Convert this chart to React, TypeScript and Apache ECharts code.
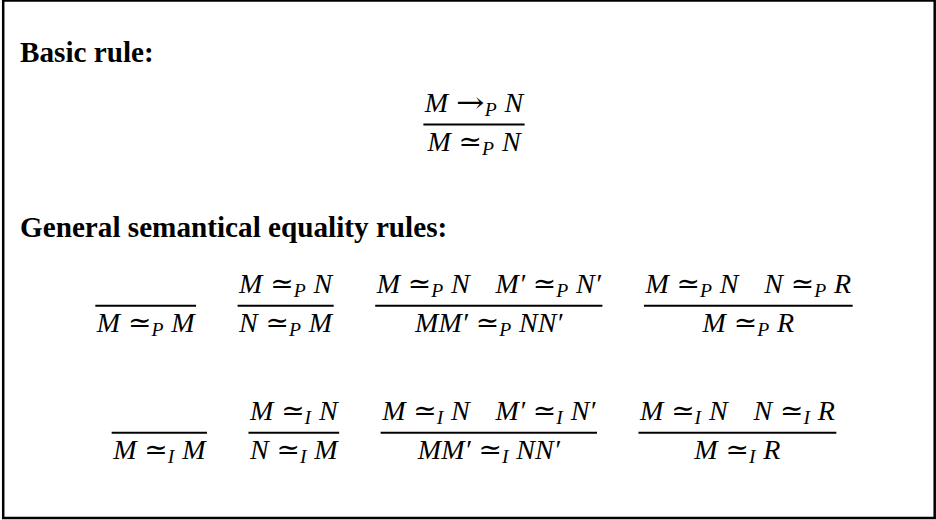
import React, { useEffect, useRef } from "react";
import * as echarts from "echarts";

// ---------- content ----------
const headings = ["Basic rule:", "General semantical equality rules:"];
const basicPremises = ["M →_P N"];
const basicConclusion = "M ≃_P N";
const premisesP = [[], ["M ≃_P N"], ["M ≃_P N", "M′ ≃_P N′"], ["M ≃_P N", "N ≃_P R"]];
const conclusionsP = ["M ≃_P M", "N ≃_P M", "MM′ ≃_P NN′", "M ≃_P R"];
const premisesI = [[], ["M ≃_I N"], ["M ≃_I N", "M′ ≃_I N′"], ["M ≃_I N", "N ≃_I R"]];
const conclusionsI = ["M ≃_I M", "N ≃_I M", "MM′ ≃_I NN′", "M ≃_I R"];

// ---------- layout / style ----------
const W = 936;
const H = 520;
const TEXT_FAMILY = '"Liberation Serif", "Times New Roman", Times, serif';
const SYM_FAMILY = '"DejaVu Sans ExtraLight", "DejaVu Serif", "Liberation Serif", serif';
const HEAD_SIZE = 29.2;
const HEAD_X = 20;
const HEAD_BASELINES = [62, 237];
const MATH = 28;
const SUB_RATIO = 0.7;
const SUB_DROP = 0.15;
const THICK = 0.28;
const PREMISE_GAP = 0.92;
const RULE_GAP = 41.5;
const CENTER_X = 474;
const LINE_PAD = 1.5;
const NUM_ABOVE = 12.6;
const DEN_BELOW = 26.5;
const BASIC_LINE_Y = 124.5;
const ROW_LINE_Y = [305.7, 432.7];
const ARROW_STRETCH = 1.22;

let mctx: CanvasRenderingContext2D | null = null;
function ctx2d() {
  if (!mctx) mctx = document.createElement("canvas").getContext("2d");
  return mctx!;
}
function fontStr(style: string, weight: string, size: number, family: string) {
  return `${style} ${weight} ${size}px ${family}`;
}
function measure(text: string, font: string) {
  const c = ctx2d();
  c.font = font;
  return c.measureText(text).width;
}
// distance from the alphabetic baseline up to the "central" baseline used by SVG text
function centralOffset(font: string, size: number) {
  const c = ctx2d();
  c.font = font;
  const m: any = c.measureText("M");
  const a = m.fontBoundingBoxAscent ?? 0.891 * size;
  const d = m.fontBoundingBoxDescent ?? 0.216 * size;
  return (a - d) / 2;
}

type Piece = {
  text: string;
  dx: number;
  dy: number;
  size: number;
  family: string;
  style: string;
  weight: string;
  sx?: number;
};

function layoutFormula(src: string, f: number) {
  const pieces: Piece[] = [];
  let x = 0;
  for (const atom of src.split(" ")) {
    if (atom[0] === "≃" || atom[0] === "→") {
      x += THICK * f;
      const sym = atom[0];
      const sub = atom.slice(2);
      const sx = sym === "→" ? ARROW_STRETCH : 1;
      pieces.push({ text: sym, dx: x, dy: 0, size: f, family: SYM_FAMILY, style: "normal", weight: "normal", sx });
      x += measure(sym, fontStr("normal", "normal", f, SYM_FAMILY)) * sx;
      const sf = f * SUB_RATIO;
      pieces.push({ text: sub, dx: x, dy: SUB_DROP * f, size: sf, family: TEXT_FAMILY, style: "italic", weight: "normal" });
      x += measure(sub, fontStr("italic", "normal", sf, TEXT_FAMILY));
      x += THICK * f;
    } else {
      pieces.push({ text: atom, dx: x, dy: 0, size: f, family: TEXT_FAMILY, style: "italic", weight: "normal" });
      x += measure(atom, fontStr("italic", "normal", f, TEXT_FAMILY));
    }
  }
  return { pieces, width: x };
}

function layoutLine(formulas: string[], f: number) {
  const pieces: Piece[] = [];
  let x = 0;
  formulas.forEach((s, i) => {
    if (i > 0) x += PREMISE_GAP * f;
    const l = layoutFormula(s, f);
    l.pieces.forEach((p) => pieces.push({ ...p, dx: p.dx + x }));
    x += l.width;
  });
  return { pieces, width: x };
}

function textEl(p: Piece, x: number, baseline: number) {
  const font = fontStr(p.style, p.weight, p.size, p.family);
  return {
    type: "text",
    x,
    y: baseline + p.dy - centralOffset(font, p.size),
    scaleX: p.sx ?? 1,
    silent: true,
    style: {
      text: p.text,
      fill: "#000",
      fontSize: p.size,
      fontFamily: p.family,
      fontStyle: p.style,
      fontWeight: p.weight,
      align: "left",
      verticalAlign: "middle",
    },
  };
}

function ruleWidth(premises: string[], conclusion: string) {
  return Math.max(layoutLine(premises, MATH).width, layoutLine([conclusion], MATH).width) + 2 * LINE_PAD;
}

function ruleEls(premises: string[], conclusion: string, left: number, lineY: number) {
  const num = layoutLine(premises, MATH);
  const den = layoutLine([conclusion], MATH);
  const w = Math.max(num.width, den.width) + 2 * LINE_PAD;
  const els: any[] = [];
  const nx = left + (w - num.width) / 2;
  const dxx = left + (w - den.width) / 2;
  num.pieces.forEach((p) => els.push(textEl(p, nx + p.dx, lineY - NUM_ABOVE)));
  den.pieces.forEach((p) => els.push(textEl(p, dxx + p.dx, lineY + DEN_BELOW)));
  els.push({
    type: "line",
    silent: true,
    shape: { x1: left, y1: lineY, x2: left + w, y2: lineY },
    style: { stroke: "#000", lineWidth: 2 },
  });
  return els;
}

function rowEls(premises: string[][], conclusions: string[], lineY: number) {
  const widths = conclusions.map((c, i) => ruleWidth(premises[i], c));
  const total = widths.reduce((a, b) => a + b, 0) + RULE_GAP * (widths.length - 1);
  let left = CENTER_X - total / 2;
  const els: any[] = [];
  conclusions.forEach((c, i) => {
    els.push(...ruleEls(premises[i], c, left, lineY));
    left += widths[i] + RULE_GAP;
  });
  return els;
}

function buildGraphics() {
  const els: any[] = [];
  els.push({
    type: "rect",
    silent: true,
    shape: { x: 3.2, y: 0.5, width: 931.5, height: 517.5 },
    style: { fill: "none", stroke: "#000", lineWidth: 2.5 },
  });
  headings.forEach((h, i) => {
    const p: Piece = { text: h, dx: 0, dy: 0, size: HEAD_SIZE, family: TEXT_FAMILY, style: "normal", weight: "bold" };
    els.push(textEl(p, HEAD_X, HEAD_BASELINES[i]));
  });
  const bw = ruleWidth(basicPremises, basicConclusion);
  els.push(...ruleEls(basicPremises, basicConclusion, CENTER_X - bw / 2, BASIC_LINE_Y));
  els.push(...rowEls(premisesP, conclusionsP, ROW_LINE_Y[0]));
  els.push(...rowEls(premisesI, conclusionsI, ROW_LINE_Y[1]));
  return els;
}

export default function App() {
  const ref = useRef<HTMLDivElement>(null);
  useEffect(() => {
    document.body.style.margin = "0";
    if (!ref.current) return;
    const chart = echarts.init(ref.current, undefined, { renderer: "svg", width: W, height: H });
    chart.setOption({
      animation: false,
      backgroundColor: "#fff",
      graphic: { elements: buildGraphics() },
    });
    return () => chart.dispose();
  }, []);
  return <div ref={ref} style={{ width: W, height: H }} />;
}
